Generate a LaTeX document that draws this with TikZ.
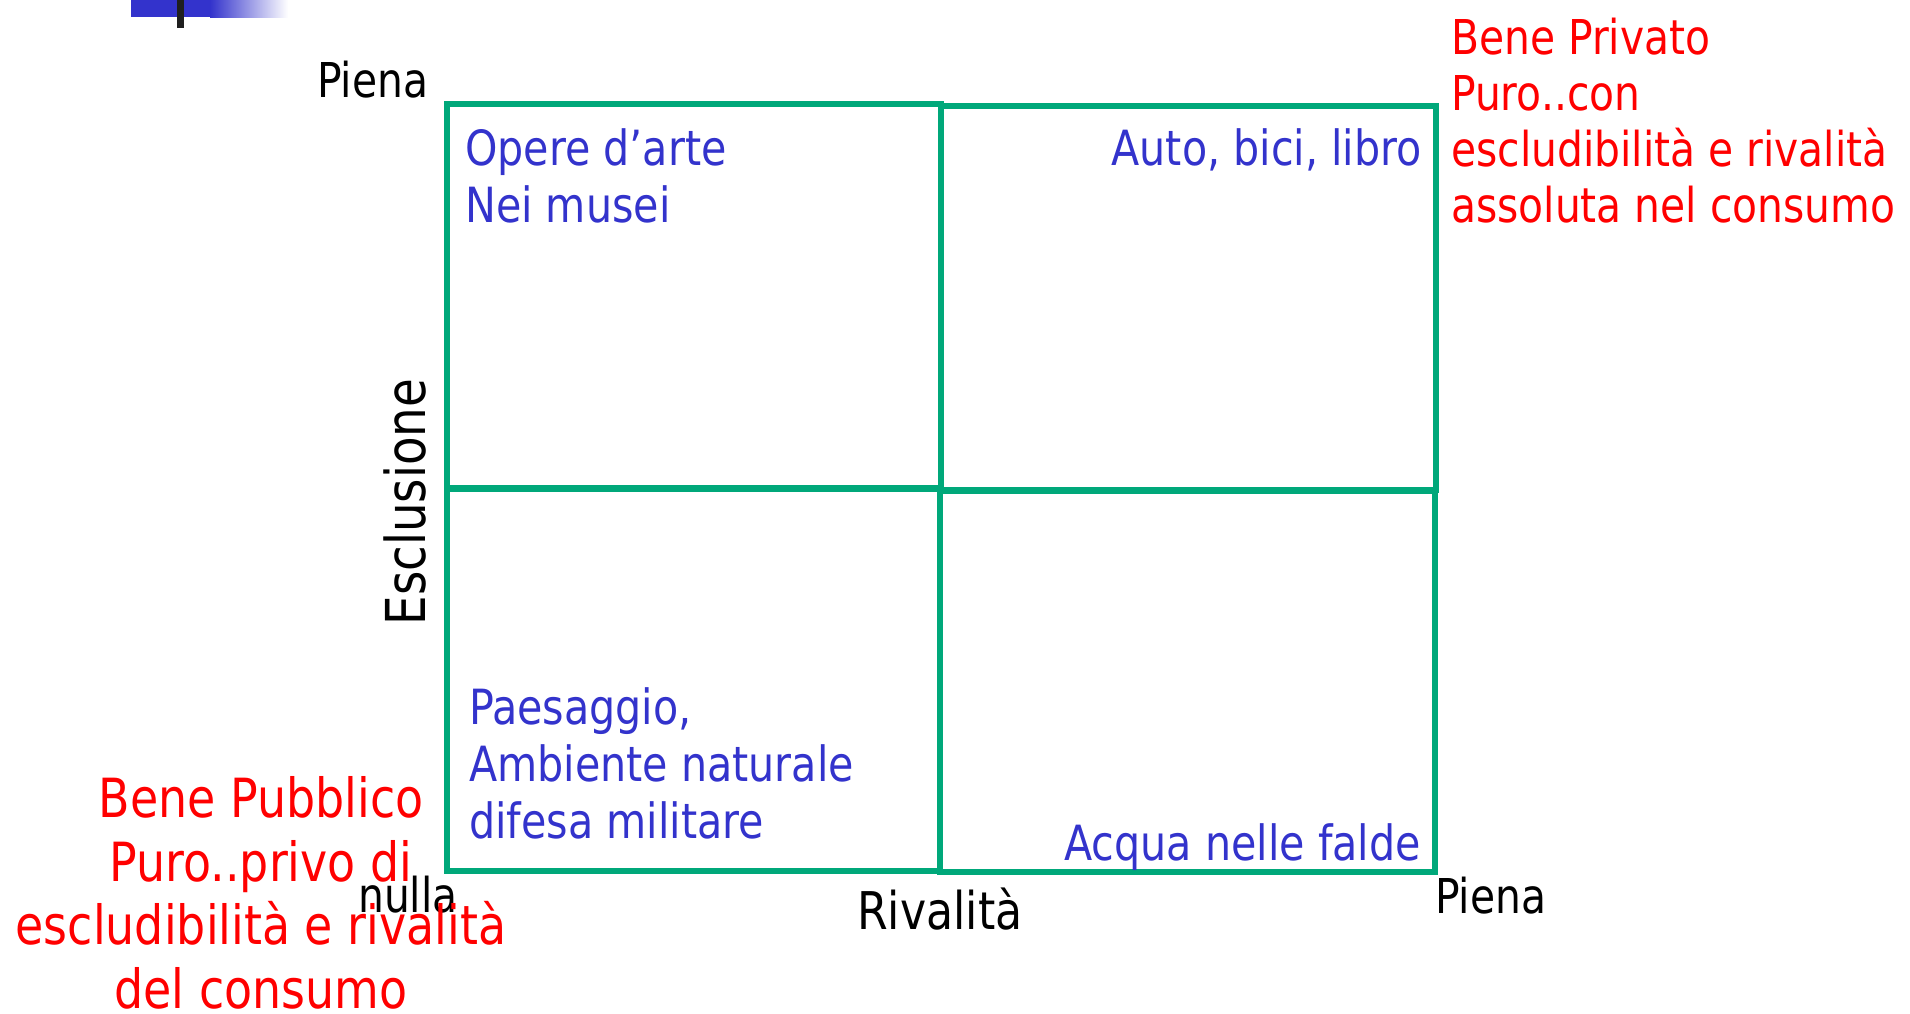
\documentclass[tikz,border=0pt]{standalone}
\usepackage{fontspec}
\setmainfont{DejaVu Sans}[FakeStretch=0.85]
\definecolor{gridgreen}{RGB}{0,168,122}
\definecolor{itemblue}{RGB}{51,51,204}
\definecolor{notered}{RGB}{255,0,0}
\begin{document}
\begin{tikzpicture}[x=1pt,y=-1pt,
  cell/.style={draw=gridgreen,line width=5.5pt},
  item/.style={text=itemblue,inner sep=0pt,font=\fontsize{48.5}{57}\selectfont,align=left},
  axislabel/.style={text=black,inner sep=0pt,font=\fontsize{48}{57}\selectfont},
  note/.style={text=notered,inner sep=0pt}]
\useasboundingbox (0,0) rectangle (1910,1013);
% header bar
\fill[itemblue] (131,0) rectangle (211,17);
\shade[left color=itemblue, right color=white] (210,0) rectangle (288,17);
\fill[black!88] (177,0) rectangle (184,28);
% grid cells
\draw[cell] (447,104) rectangle (941,488);
\draw[cell] (941,106) rectangle (1436,490);
\draw[cell] (447,489) rectangle (940,871);
\draw[cell] (940,491) rectangle (1435,872);
% axis labels
\node[axislabel, anchor=base west] (pienaY) at (317,97) {Piena};
\node[axislabel, anchor=base, rotate=90, font=\fontsize{55}{60}\selectfont] (escl) at (425,502) {Esclusione};
\node[axislabel, anchor=base west] (nulla) at (358,912) {nulla};
\node[axislabel, anchor=base west, font=\fontsize{52}{60}\selectfont] (rival) at (857,929) {Rivalità};
\node[axislabel, anchor=base west] (pienaX) at (1435,913) {Piena};
% items (base anchor = baseline of the last line)
\node[item, anchor=base west] (opere) at (465,222) {Opere d’arte\\Nei musei};
\node[item, anchor=base east, align=right] (auto) at (1422,165) {Auto, bici, libro};
\node[item, anchor=base west] (paes) at (469,838) {Paesaggio,\\Ambiente naturale\\difesa militare};
\node[item, anchor=base east, align=right] (acqua) at (1421,860) {Acqua nelle falde};
% notes
\node[note, anchor=base west, align=left, font=\fontsize{48}{56}\selectfont] (privato) at (1451,222) {Bene Privato\\Puro..con\\escludibilità e rivalità\\assoluta nel consumo};
\node[note, anchor=base, align=center, font=\fontsize{54}{63.5}\selectfont] (pubblico) at (261,1008) {Bene Pubblico\\Puro..privo di\hspace*{0.45em}\\escludibilità e rivalità\\del consumo};
\end{tikzpicture}
\end{document}
